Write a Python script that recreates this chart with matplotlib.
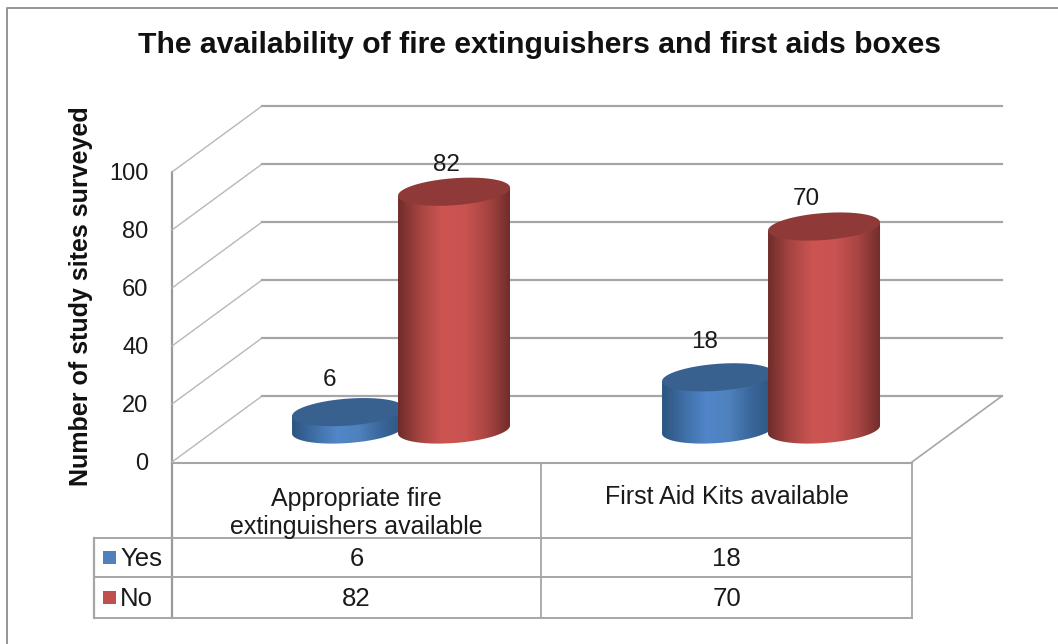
import numpy as np
import matplotlib
matplotlib.use('Agg')
import matplotlib.pyplot as plt
from matplotlib.colors import LinearSegmentedColormap
from matplotlib.patches import Polygon, Rectangle

title = 'The availability of fire extinguishers and first aids boxes'
ylabel = 'Number of study sites surveyed'
categories = ['Appropriate fire\nextinguishers available', 'First Aid Kits available']
series_names = ['Yes', 'No']
yes_values = [6, 18]
no_values = [82, 70]
yticks = [0, 20, 40, 60, 80, 100]

W, H = 1058, 644
plt.rcParams['font.family'] = ['Liberation Sans', 'DejaVu Sans']
line_col = '#a6a6a6'
txt_col = '#1a1a1a'

fig = plt.figure(figsize=(W / 100, H / 100), dpi=100)

# background layer in pixel coords, for frame and table
bg = fig.add_axes([0, 0, 1, 1])
bg.set_xlim(0, W)
bg.set_ylim(H, 0)
bg.axis('off')

bg.plot([7, 7, W], [H, 8, 8], color='#8c8c8c', lw=1.3)

# plot area: x 172..912, y 172..462 px
px_x, px_y = 370.0, 2.9
ax = fig.add_axes([172 / W, 1 - 462 / H, 740 / W, 290 / H])
ax.set_xlim(0, 2)
ax.set_ylim(0, 100)
ax.patch.set_alpha(0)
for s in ax.spines.values():
    s.set_visible(False)
ax.set_xticks([])
ax.set_yticks(yticks)
ax.tick_params(axis='y', length=0, pad=17, labelsize=17, labelcolor=txt_col)

# walls
back_dx = 90 / px_x
back_dy = 66 / px_y
for t in yticks:
    ax.plot([0, back_dx], [t, t + back_dy], color='#b8b8b8', lw=1.0, clip_on=False, zorder=1)
    ax.plot([back_dx, 2 + back_dx], [t + back_dy, t + back_dy], color=line_col, lw=1.6,
            clip_on=False, zorder=1)
ax.plot([2, 2 + back_dx], [0, back_dy], color=line_col, lw=1.2, clip_on=False, zorder=1)


def cylinder(xc, val, cmap, top_col, z):
    a = 56 / px_x
    b = 13.5 / px_y
    s = 4 / px_y
    base = 11.2
    top = base + val
    t = np.linspace(0, np.pi, 60)
    # lower half of the base ellipse, going left to right; left end sits lower
    bx = xc - a * np.cos(t)
    by = base - b * np.sin(t) - s * np.cos(t)
    side = np.concatenate([[[xc - a, top - s]], np.column_stack([bx, by]), [[xc + a, top + s]]])
    patch = Polygon(side, closed=True, transform=ax.transData, fc='none', ec='none')
    ax.add_patch(patch)
    grad = np.linspace(0, 1, 256).reshape(1, -1)
    im = ax.imshow(grad, cmap=cmap, aspect='auto', zorder=z, interpolation='bilinear',
                   extent=[xc - a, xc + a, base - b - 3, top + s + 3])
    im.set_clip_path(patch)
    t2 = np.linspace(0, 2 * np.pi, 120)
    ex = xc - a * np.cos(t2)
    ey = top + b * np.sin(t2) - s * np.cos(t2)
    ax.add_patch(Polygon(np.column_stack([ex, ey]), closed=True, fc=top_col, ec='none', zorder=z + 0.1))


blue_map = LinearSegmentedColormap.from_list('b', ['#2c5580', '#3f6fa6', '#5186c9', '#4f81bd', '#3a669a', '#2c5580'])
red_map = LinearSegmentedColormap.from_list('r', ['#6f2c2a', '#a84542', '#cc5552', '#c95351', '#a84542', '#702d2b'])

bar_off = 53 / px_x
shift = 0.119
for i in range(len(categories)):
    xc = i + 0.5 + shift
    cylinder(xc - bar_off, yes_values[i], blue_map, '#39618f', 3 + i)
    cylinder(xc + bar_off, no_values[i], red_map, '#8f3a38', 3.5 + i)

ax.set_xlim(0, 2)
ax.set_ylim(0, 100)

# value labels sit above the cylinders, shifted left
yes_label_dx = [-19, -13]
yes_label_dy = [32, 35]
no_label_dx = [-8, -18]
no_label_dy = [27, 28]
for i in range(len(categories)):
    xc = i + 0.5 + shift
    ax.annotate(str(yes_values[i]), (xc - bar_off, 11.2 + yes_values[i]),
                xytext=(yes_label_dx[i] * 0.72, yes_label_dy[i] * 0.72), textcoords='offset points',
                ha='center', va='center', fontsize=17.5, color=txt_col, zorder=10, annotation_clip=False)
    ax.annotate(str(no_values[i]), (xc + bar_off, 11.2 + no_values[i]),
                xytext=(no_label_dx[i] * 0.72, no_label_dy[i] * 0.72), textcoords='offset points',
                ha='center', va='center', fontsize=17.5, color=txt_col, zorder=10, annotation_clip=False)

# data table below the plot
col_x = [172, 541, 912]
row_y = [463, 538, 577, 618]
left_x = 94
bg.plot([col_x[0], col_x[2]], [row_y[0], row_y[0]], color=line_col, lw=1.5)
bg.plot([col_x[0], col_x[0]], [172, row_y[3]], color='#9a9a9a', lw=1.6)
for c in col_x[1:]:
    bg.plot([c, c], [row_y[0], row_y[3]], color=line_col, lw=1.3)
for r in row_y[1:]:
    bg.plot([left_x, col_x[2]], [r, r], color=line_col, lw=1.4)
bg.plot([left_x, left_x], [row_y[1], row_y[3]], color=line_col, lw=1.6)

for i, cat in enumerate(categories):
    cx = (col_x[i] + col_x[i + 1]) / 2
    bg.text(cx, 513 if '\n' in cat else 497, cat, ha='center', va='center', fontsize=18,
            color=txt_col, linespacing=1.2)
    bg.text(cx, (row_y[1] + row_y[2]) / 2 + 2, str(yes_values[i]), ha='center', va='center',
            fontsize=18.5, color=txt_col)
    bg.text(cx, (row_y[2] + row_y[3]) / 2 + 2, str(no_values[i]), ha='center', va='center',
            fontsize=18.5, color=txt_col)

swatch_cols = ['#4f81bd', '#c0504d']
for j, name in enumerate(series_names):
    ry = (row_y[j + 1] + row_y[j + 2]) / 2
    bg.add_patch(Rectangle((103, ry - 6.5), 13, 13, fc=swatch_cols[j], ec='none'))
    bg.text(120, ry + 1, name, ha='left', va='center', fontsize=18.5, color=txt_col)

bg.text(539, 45, title, ha='center', va='center', fontsize=21.7, fontweight='bold', color='#111111')
bg.text(81, 296, ylabel, rotation=90, ha='center', va='center', fontsize=18,
        fontweight='bold', color='#111111')

fig.savefig('out.png', dpi=100)
